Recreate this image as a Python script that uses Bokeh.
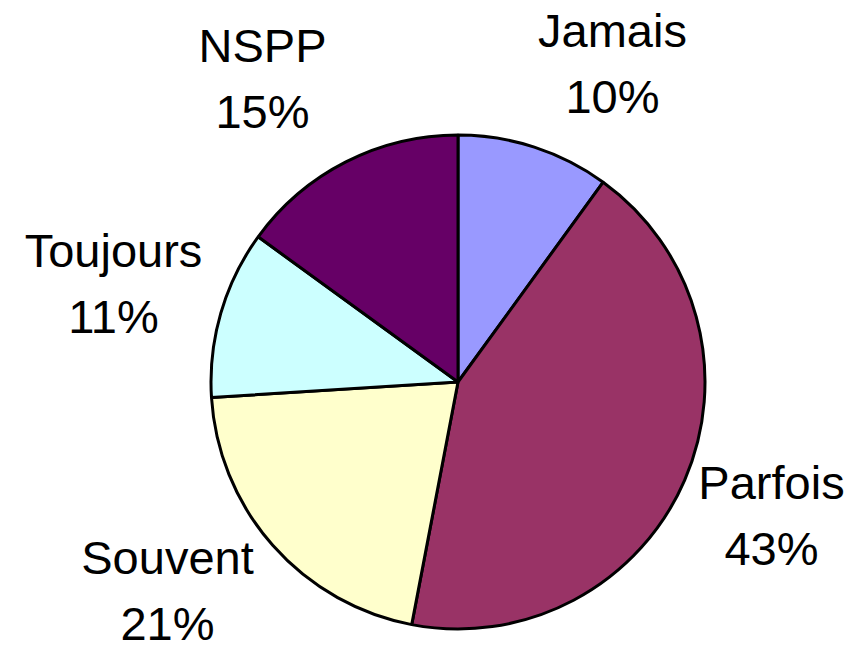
import math
from bokeh.plotting import figure
from bokeh.models import Range1d, ColumnDataSource
from bokeh.core.properties import value
from bokeh.embed import file_html
from bokeh.resources import INLINE

# ---- data ----
categories = ["Jamais", "Parfois", "Souvent", "Toujours", "NSPP"]
percents = [10, 43, 21, 11, 15]
colors = ["#9999FF", "#993366", "#FFFFCC", "#CCFFFF", "#660066"]

# ---- layout (picture pixel coordinates, origin top-left) ----
W, H = 848, 653
CX, CY_IMG, R = 457.5, 381.5, 247
# label anchor: (center x, baseline y of the name line)
label_anchor = {
    "Jamais": (612, 48),
    "Parfois": (771, 500),
    "Souvent": (167, 575),
    "Toujours": (113, 268),
    "NSPP": (262, 63),
}
LINE_GAP = 66
TEXT_DY = 18   # renderer places alphabetic baseline lower; compensate
FONT = "Liberation Sans"
FONT_SIZE = "47px"


def yd(y_img):
    return H - y_img


p = figure(width=W, height=H, output_backend="svg", toolbar_location=None,
           x_range=Range1d(0, W), y_range=Range1d(0, H),
           min_border=0)
p.axis.visible = False
p.xgrid.visible = False
p.ygrid.visible = False
p.outline_line_color = None
p.background_fill_color = "white"
p.border_fill_color = "white"

total = float(sum(percents))
starts, ends = [], []
cum = 0.0
for v in percents:
    starts.append(math.pi / 2 - 2 * math.pi * cum / total)
    cum += v
    ends.append(math.pi / 2 - 2 * math.pi * cum / total)

src = ColumnDataSource(dict(cat=categories, start=starts, end=ends, color=colors,
                            x=[CX] * len(categories), y=[yd(CY_IMG)] * len(categories)))
p.wedge(x="x", y="y", radius=R, start_angle="start", end_angle="end",
        direction="clock", fill_color="color", line_color="black",
        line_width=3, source=src)

lx, ly1, ly2, t1, t2 = [], [], [], [], []
for c, v in zip(categories, percents):
    ax, ay = label_anchor[c]
    lx.append(ax)
    ly1.append(yd(ay - TEXT_DY))
    ly2.append(yd(ay + LINE_GAP - TEXT_DY))
    t1.append(c)
    t2.append(f"{round(100 * v / total)}%")

lsrc = ColumnDataSource(dict(x=lx, y1=ly1, y2=ly2, t1=t1, t2=t2))
for ycol, tcol in (("y1", "t1"), ("y2", "t2")):
    p.text(x="x", y=ycol, text=tcol, source=lsrc, text_align="center",
           text_baseline="alphabetic", text_font=value(FONT),
           text_font_size=FONT_SIZE, text_color="black")

open("out.html", "w").write(file_html(p, INLINE))
